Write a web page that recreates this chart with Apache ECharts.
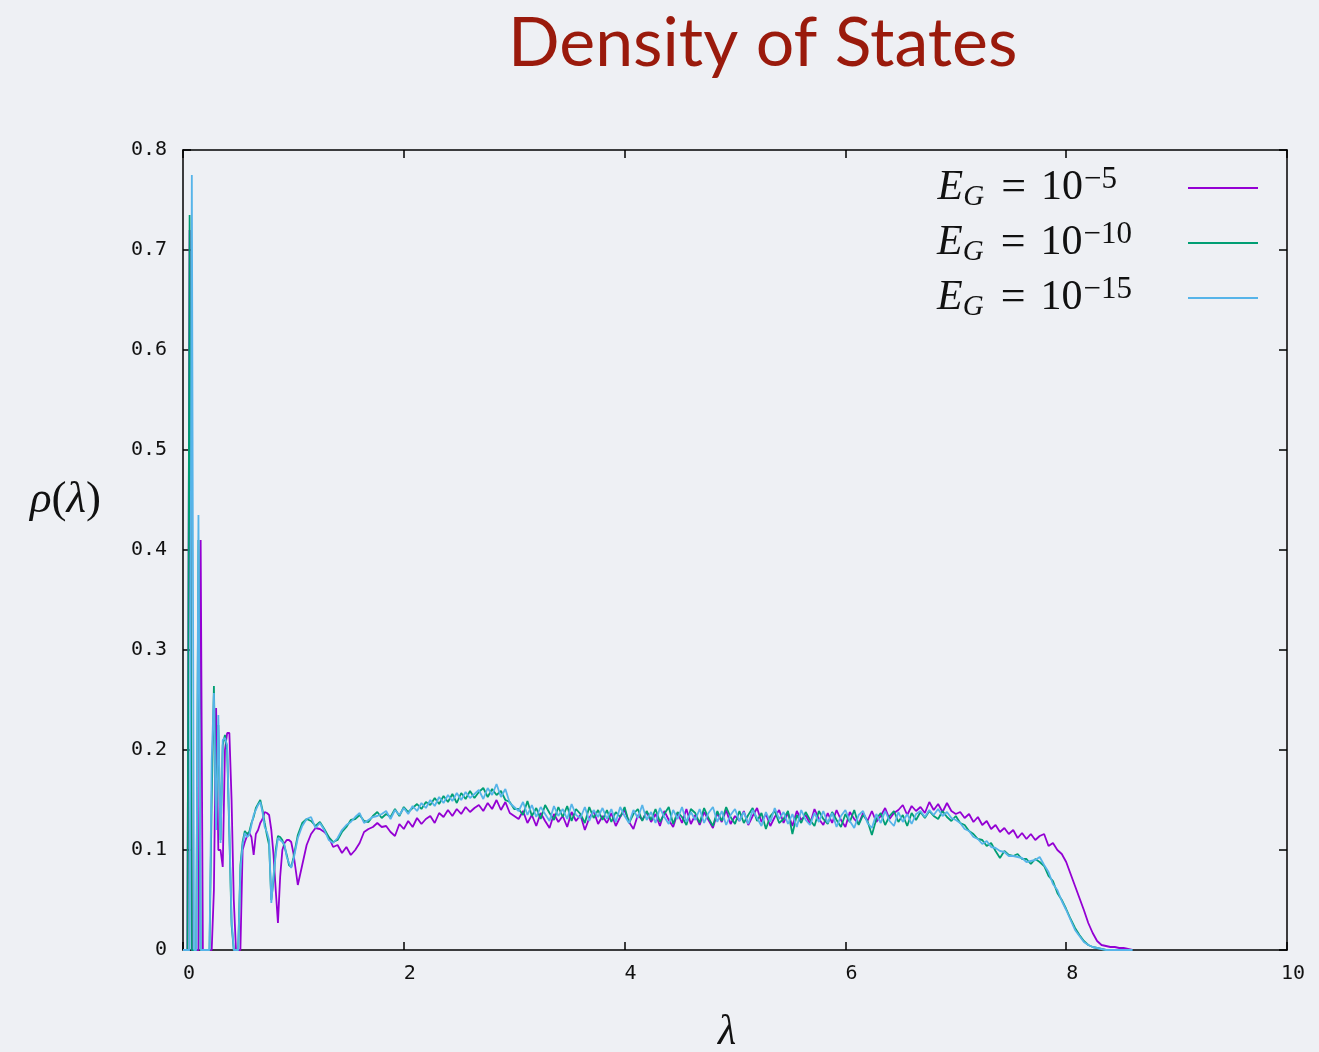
<!DOCTYPE html>
<html>
<head>
<meta charset="utf-8">
<script src="https://cdn.jsdelivr.net/npm/echarts@6/dist/echarts.min.js"></script>
<style>
html,body{margin:0;padding:0;background:#eef0f4;}
#chart{width:1319px;height:1052px;}
</style>
</head>
<body>
<div id="chart"></div>
<script>
// Bin centres: fine bins 0..1.00 (step 0.02), then 1.04..8.60 (step 0.04)
const EARLY_STEP = 0.02;
const MAIN_START = 1.04;
const MAIN_STEP = 0.04;

const seriesNames = ['E_G = 10^-5', 'E_G = 10^-10', 'E_G = 10^-15'];
const exponents = ['−5', '−10', '−15'];
const colors = ['#9400d3', '#009e73', '#56b4e9'];
const xTicks = [0, 2, 4, 6, 8, 10];
const yTicks = [0, 0.1, 0.2, 0.3, 0.4, 0.5, 0.6, 0.7, 0.8];

// E_G = 1e-5
const purpleEarly = [
  0, 0, 0, 0.72, 0, 0, 0, 0, 0.41, 0,
  0, 0, 0, 0, 0.06, 0.242, 0.1, 0.1, 0.083, 0.2,
  0.217, 0.217, 0.15, 0.05, 0, 0, 0, 0.1, 0.108, 0.114,
  0.117, 0.113, 0.095, 0.116, 0.12, 0.127, 0.131, 0.138, 0.137, 0.135,
  0.12, 0.095, 0.06, 0.027, 0.073, 0.1, 0.107, 0.11, 0.11, 0.108,
  0.097
];
const purpleMain = [
  0.065, 0.085, 0.105, 0.116, 0.122, 0.121, 0.118, 0.113, 0.103, 0.105,
  0.097, 0.103, 0.095, 0.1, 0.107, 0.118, 0.121, 0.123, 0.127, 0.123,
  0.124, 0.118, 0.114, 0.126, 0.121, 0.129, 0.123, 0.132, 0.126, 0.131,
  0.134, 0.127, 0.137, 0.133, 0.14, 0.134, 0.141, 0.136, 0.143, 0.138,
  0.142, 0.145, 0.139, 0.147, 0.141, 0.15, 0.14, 0.148, 0.137, 0.134,
  0.131, 0.139, 0.127, 0.135, 0.124, 0.137, 0.129, 0.122, 0.136, 0.128,
  0.134, 0.123, 0.138, 0.129, 0.135, 0.12, 0.132, 0.139, 0.126, 0.134,
  0.127, 0.137, 0.124, 0.133, 0.14, 0.128, 0.121, 0.135, 0.13, 0.138,
  0.128, 0.136, 0.124, 0.139, 0.13, 0.123, 0.137, 0.127, 0.141, 0.126,
  0.135, 0.125, 0.138, 0.13, 0.122, 0.137, 0.128, 0.14, 0.126, 0.134,
  0.129, 0.139, 0.125, 0.134, 0.142, 0.128, 0.136, 0.124, 0.133, 0.14,
  0.127, 0.137, 0.124, 0.139, 0.13, 0.135, 0.126, 0.141, 0.131, 0.125,
  0.137, 0.127, 0.14, 0.13, 0.123, 0.138, 0.131, 0.126, 0.137, 0.129,
  0.139, 0.128, 0.134, 0.142, 0.131, 0.137, 0.14, 0.145, 0.135, 0.144,
  0.139, 0.143, 0.137, 0.148, 0.14, 0.146, 0.138, 0.147, 0.139, 0.136,
  0.138, 0.132, 0.136, 0.128, 0.133, 0.125, 0.129, 0.121, 0.125, 0.118,
  0.122, 0.116, 0.12, 0.112, 0.117, 0.111, 0.116, 0.11, 0.114, 0.116,
  0.104, 0.107, 0.1, 0.096, 0.088, 0.076, 0.064, 0.052, 0.04, 0.027,
  0.017, 0.009, 0.005, 0.004, 0.003, 0.003, 0.002, 0.002, 0.001, 0
];

// E_G = 1e-10
const greenEarly = [
  0, 0, 0, 0.735, 0, 0, 0, 0.41, 0, 0,
  0, 0, 0, 0.15, 0.264, 0.13, 0.225, 0.11, 0.205, 0.215,
  0.2, 0.115, 0.025, 0, 0, 0, 0.085, 0.108, 0.119, 0.116,
  0.118, 0.127, 0.133, 0.142, 0.146, 0.15, 0.14, 0.127, 0.115, 0.105,
  0.05, 0.07, 0.1, 0.114, 0.113, 0.11, 0.103, 0.095, 0.085, 0.083,
  0.092
];
const greenMain = [
  0.115, 0.127, 0.131, 0.129, 0.124, 0.128, 0.121, 0.113, 0.108, 0.11,
  0.118, 0.123, 0.13, 0.131, 0.135, 0.129, 0.128, 0.134, 0.138, 0.132,
  0.136, 0.133, 0.141, 0.134, 0.143, 0.138, 0.142, 0.146, 0.141, 0.148,
  0.145, 0.152, 0.146, 0.154, 0.148, 0.156, 0.147, 0.157, 0.151, 0.159,
  0.152, 0.158, 0.162, 0.153, 0.161, 0.155, 0.159, 0.15, 0.148, 0.141,
  0.141, 0.135, 0.149, 0.134, 0.142, 0.131, 0.145, 0.137, 0.13, 0.143,
  0.133, 0.144, 0.129, 0.141, 0.136, 0.127, 0.143, 0.132, 0.14, 0.13,
  0.14, 0.128, 0.138, 0.133, 0.143, 0.127, 0.136, 0.141, 0.129, 0.139,
  0.13, 0.141, 0.128, 0.136, 0.143, 0.126, 0.138, 0.133, 0.125, 0.141,
  0.137, 0.127, 0.142, 0.132, 0.124, 0.139, 0.129, 0.143, 0.133, 0.126,
  0.139, 0.127, 0.135, 0.142, 0.129, 0.137, 0.121, 0.134, 0.139, 0.127,
  0.131, 0.139, 0.116, 0.135, 0.127, 0.138, 0.13, 0.124, 0.139, 0.131,
  0.126, 0.138, 0.13, 0.123, 0.136, 0.128, 0.14, 0.125, 0.135, 0.129,
  0.115, 0.131, 0.137, 0.125, 0.134, 0.139, 0.128, 0.135, 0.124, 0.137,
  0.13, 0.138, 0.132, 0.139, 0.134, 0.131, 0.139, 0.133, 0.129, 0.134,
  0.127, 0.125, 0.119, 0.116, 0.111, 0.11, 0.104, 0.107, 0.099, 0.092,
  0.099, 0.095, 0.094, 0.096, 0.091, 0.091, 0.086, 0.091, 0.088, 0.084,
  0.074, 0.069, 0.057, 0.05, 0.041, 0.031, 0.022, 0.015, 0.009, 0.005,
  0.003, 0.002, 0.001, 0, 0, 0, 0, 0, 0, 0
];

// E_G = 1e-15
const blueEarly = [
  0, 0, 0, 0, 0.775, 0, 0, 0.435, 0, 0,
  0, 0, 0, 0.19, 0.257, 0.12, 0.235, 0.107, 0.21, 0.212,
  0.205, 0.12, 0.03, 0, 0, 0, 0.08, 0.105, 0.117, 0.113,
  0.115, 0.125, 0.135, 0.14, 0.145, 0.148, 0.138, 0.123, 0.118, 0.11,
  0.047, 0.075, 0.095, 0.112, 0.11, 0.108, 0.105, 0.093, 0.087, 0.082,
  0.09
];
const blueMain = [
  0.112, 0.124, 0.131, 0.133, 0.122, 0.127, 0.12, 0.11, 0.107, 0.112,
  0.12, 0.125, 0.128, 0.133, 0.137, 0.127, 0.13, 0.133, 0.134, 0.136,
  0.139, 0.131, 0.14, 0.135, 0.142, 0.136, 0.144, 0.139, 0.147, 0.142,
  0.15, 0.144, 0.153, 0.147, 0.155, 0.149, 0.157, 0.15, 0.158, 0.152,
  0.156, 0.16, 0.151, 0.162, 0.155, 0.166, 0.153, 0.161, 0.147, 0.143,
  0.139, 0.148, 0.135, 0.145, 0.133, 0.143, 0.136, 0.129, 0.144, 0.134,
  0.141, 0.131, 0.146, 0.135, 0.132, 0.143, 0.129, 0.14, 0.133, 0.142,
  0.131, 0.141, 0.128, 0.143, 0.134, 0.127, 0.14, 0.132, 0.145, 0.13,
  0.138, 0.127, 0.142, 0.133, 0.126, 0.14, 0.131, 0.143, 0.128, 0.138,
  0.13, 0.141, 0.127, 0.137, 0.143, 0.128, 0.139, 0.125, 0.135, 0.141,
  0.129, 0.138, 0.126, 0.14, 0.132, 0.124, 0.138, 0.128, 0.142, 0.131,
  0.138, 0.126, 0.136, 0.123, 0.14, 0.13, 0.125, 0.137, 0.128, 0.139,
  0.127, 0.137, 0.123, 0.134, 0.14, 0.129, 0.122, 0.135, 0.139, 0.127,
  0.122, 0.136, 0.127, 0.139, 0.129, 0.124, 0.138, 0.128, 0.136, 0.126,
  0.136, 0.139, 0.133, 0.14, 0.135, 0.141, 0.134, 0.138, 0.132, 0.13,
  0.127, 0.121, 0.119, 0.113, 0.111, 0.106, 0.109, 0.103, 0.102, 0.099,
  0.098, 0.094, 0.094, 0.093, 0.092, 0.088, 0.089, 0.09, 0.093, 0.085,
  0.078, 0.066, 0.06, 0.049, 0.04, 0.03, 0.02, 0.014, 0.008, 0.005,
  0.003, 0.002, 0.001, 0, 0, 0, 0, 0, 0, 0
];

function toPairs(early, main) {
  const out = [];
  early.forEach((v, i) => out.push([+(i * EARLY_STEP).toFixed(2), v]));
  main.forEach((v, i) => out.push([+(MAIN_START + i * MAIN_STEP).toFixed(2), v]));
  return out;
}
const seriesData = [
  toPairs(purpleEarly, purpleMain),
  toPairs(greenEarly, greenMain),
  toPairs(blueEarly, blueMain)
];

const chart = echarts.init(document.getElementById('chart'), null, {renderer: 'canvas'});
const AXIS = {color: '#000', width: 1.5};
const tickFont = {fontFamily: 'DejaVu Sans Mono', fontSize: 20, color: '#111'};
const mathSerif = 'Liberation Serif';
const supBase = {fontFamily: mathSerif, fontSize: 31, color: '#111', verticalAlign: 'top', lineHeight: 30};

const option = {
  backgroundColor: '#eef0f4',
  animation: false,
  title: {
    text: 'Density of States',
    left: 503, top: 5,
    textStyle: {fontFamily: 'Lato', fontSize: 68, fontWeight: 'normal', color: '#9a1a0c'}
  },
  grid: {left: 183, right: 32, top: 150, bottom: 102, containLabel: false, outerBoundsMode: 'none'},
  legend: {
    orient: 'vertical',
    right: 56, top: 159,
    align: 'right',
    icon: 'rect',
    itemWidth: 70, itemHeight: 2, itemGap: 7,
    data: seriesNames,
    formatter: name => {
      const ex = exponents[seriesNames.indexOf(name)];
      return '{e|E}{sub|G}{eq|=}{ten|10}{' + (ex.length > 2 ? 'sup2' : 'sup1') + '|' + ex + '}';
    },
    textStyle: {
      rich: {
        e: {fontFamily: mathSerif, fontStyle: 'italic', fontSize: 42, color: '#111', lineHeight: 48},
        sub: {fontFamily: mathSerif, fontStyle: 'italic', fontSize: 29, color: '#111', verticalAlign: 'bottom', lineHeight: 30},
        eq: {fontFamily: mathSerif, fontSize: 44, color: '#111', lineHeight: 48, padding: [0, 15, 0, 17]},
        ten: {fontFamily: mathSerif, fontSize: 42, color: '#111', lineHeight: 48},
        sup1: Object.assign({padding: [0, 66, 0, 1]}, supBase),
        sup2: Object.assign({padding: [0, 51, 0, 1]}, supBase)
      }
    }
  },
  xAxis: [
    {
      type: 'value', min: 0, max: 10, interval: 2, position: 'bottom',
      axisLine: {show: true, onZero: false, lineStyle: AXIS},
      axisTick: {show: true, inside: true, length: 8, lineStyle: AXIS},
      axisLabel: Object.assign({margin: 14, padding: [0, 0, 0, 12], formatter: v => String(v)}, tickFont),
      splitLine: {show: false},
      name: 'λ', nameLocation: 'middle', nameGap: 62,
      nameTextStyle: {fontFamily: mathSerif, fontStyle: 'italic', fontSize: 42, color: '#111', padding: [0, 16, 0, 0]}
    },
    {
      type: 'value', min: 0, max: 10, interval: 2, position: 'top',
      axisLine: {show: true, onZero: false, lineStyle: AXIS},
      axisTick: {show: true, inside: true, length: 8, lineStyle: AXIS},
      axisLabel: {show: false}, splitLine: {show: false}
    }
  ],
  yAxis: [
    {
      type: 'value', min: 0, max: 0.8, interval: 0.1, position: 'left',
      axisLine: {show: true, onZero: false, lineStyle: AXIS},
      axisTick: {show: true, inside: true, length: 8, lineStyle: AXIS},
      axisLabel: Object.assign({margin: 16, formatter: v => yTicks.indexOf(+v.toFixed(1)) >= 0 ? String(+v.toFixed(1)) : ''}, tickFont),
      splitLine: {show: false},
      name: '{i|ρ}{n|(}{i|λ}{n|)}', nameLocation: 'middle', nameRotate: 0, nameGap: 82,
      nameTextStyle: {
        padding: [0, 0, 100, 0],
        rich: {
          i: {fontFamily: mathSerif, fontStyle: 'italic', fontSize: 45, color: '#111'},
          n: {fontFamily: mathSerif, fontSize: 45, color: '#111'}
        }
      }
    },
    {
      type: 'value', min: 0, max: 0.8, interval: 0.1, position: 'right',
      axisLine: {show: true, onZero: false, lineStyle: AXIS},
      axisTick: {show: true, inside: true, length: 8, lineStyle: AXIS},
      axisLabel: {show: false}, splitLine: {show: false}
    }
  ],
  series: seriesNames.map((n, i) => ({
    name: n,
    type: 'line',
    xAxisIndex: 0, yAxisIndex: 0,
    data: seriesData[i],
    symbol: 'none',
    showSymbol: false,
    lineStyle: {color: colors[i], width: 1.8},
    itemStyle: {color: colors[i]},
    z: 2 + i
  }))
};
chart.setOption(option);
</script>
</body>
</html>
